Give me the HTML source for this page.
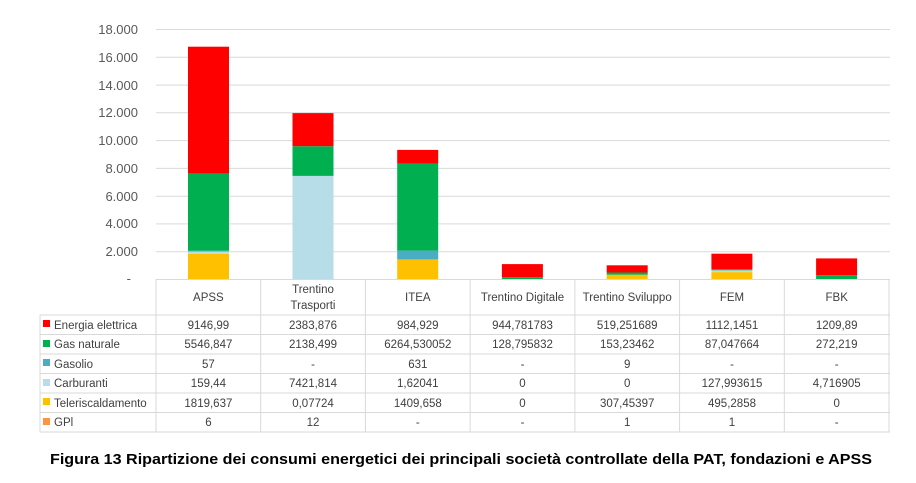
<!DOCTYPE html>
<html><head><meta charset="utf-8"><style>
html,body{margin:0;padding:0;background:#fff;width:916px;height:483px;overflow:hidden}
svg{display:block}
text{font-family:"Liberation Sans",sans-serif}
</style></head><body>
<svg width="916" height="483" xmlns="http://www.w3.org/2000/svg">
<g stroke="#d9d9d9" stroke-width="1">
<line x1="156" y1="29.5" x2="890" y2="29.5"/><line x1="156" y1="57.3" x2="890" y2="57.3"/>
<line x1="156" y1="85.1" x2="890" y2="85.1"/><line x1="156" y1="112.8" x2="890" y2="112.8"/>
<line x1="156" y1="140.6" x2="890" y2="140.6"/><line x1="156" y1="168.4" x2="890" y2="168.4"/>
<line x1="156" y1="196.2" x2="890" y2="196.2"/><line x1="156" y1="223.9" x2="890" y2="223.9"/>
<line x1="156" y1="251.7" x2="890" y2="251.7"/>
</g>
<g font-size="13" fill="#595959" text-anchor="end">
<text x="138" y="34">18.000</text><text x="138" y="62">16.000</text><text x="138" y="90">14.000</text>
<text x="138" y="117">12.000</text><text x="138" y="145">10.000</text><text x="138" y="173">8.000</text>
<text x="138" y="201">6.000</text><text x="138" y="228">4.000</text><text x="138" y="256">2.000</text>
<text x="131" y="283">-</text>
</g>
<g>
<rect x="188" y="253.7" width="41" height="25.3" fill="#ffc000"/>
<rect x="188" y="251.5" width="41" height="2.2" fill="#b7dde8"/>
<rect x="188" y="250.7" width="41" height="0.8" fill="#4bacc6"/>
<rect x="188" y="173.7" width="41" height="77" fill="#00b050"/>
<rect x="188" y="46.7" width="41" height="127" fill="#ff0000"/>

<rect x="292.5" y="175.9" width="41" height="103.1" fill="#b7dde8"/>
<rect x="292.5" y="146.2" width="41" height="29.7" fill="#00b050"/>
<rect x="292.5" y="113.1" width="41" height="33.1" fill="#ff0000"/>

<rect x="397.2" y="259.4" width="41" height="19.6" fill="#ffc000"/>
<rect x="397.2" y="250.6" width="41" height="8.8" fill="#4bacc6"/>
<rect x="397.2" y="163.6" width="41" height="87" fill="#00b050"/>
<rect x="397.2" y="149.9" width="41" height="13.7" fill="#ff0000"/>

<rect x="501.9" y="277.2" width="41" height="1.8" fill="#00b050"/>
<rect x="501.9" y="264.1" width="41" height="13.1" fill="#ff0000"/>

<rect x="606.7" y="274.7" width="41" height="4.3" fill="#ffc000"/>
<rect x="606.7" y="272.5" width="41" height="2.2" fill="#00b050"/>
<rect x="606.7" y="265.3" width="41" height="7.2" fill="#ff0000"/>

<rect x="711.4" y="272.1" width="41" height="6.9" fill="#ffc000"/>
<rect x="711.4" y="270.3" width="41" height="1.8" fill="#b7dde8"/>
<rect x="711.4" y="269.1" width="41" height="1.2" fill="#00b050"/>
<rect x="711.4" y="253.7" width="41" height="15.4" fill="#ff0000"/>

<rect x="816.1" y="275.2" width="41" height="3.8" fill="#00b050"/>
<rect x="816.1" y="258.4" width="41" height="16.8" fill="#ff0000"/>
</g>
<g stroke="#d9d9d9" stroke-width="1">
<line x1="156" y1="279.5" x2="890" y2="279.5"/>
<line x1="40" y1="315" x2="890" y2="315"/>
<line x1="40" y1="334.5" x2="890" y2="334.5"/>
<line x1="40" y1="354" x2="890" y2="354"/>
<line x1="40" y1="373.5" x2="890" y2="373.5"/>
<line x1="40" y1="393" x2="890" y2="393"/>
<line x1="40" y1="412.5" x2="890" y2="412.5"/>
<line x1="40" y1="432" x2="890" y2="432"/>
<line x1="40" y1="315" x2="40" y2="432"/>
<line x1="156" y1="279" x2="156" y2="432"/>
<line x1="260.7" y1="279" x2="260.7" y2="432"/>
<line x1="365.4" y1="279" x2="365.4" y2="432"/>
<line x1="470.1" y1="279" x2="470.1" y2="432"/>
<line x1="574.9" y1="279" x2="574.9" y2="432"/>
<line x1="679.6" y1="279" x2="679.6" y2="432"/>
<line x1="784.3" y1="279" x2="784.3" y2="432"/>
<line x1="889" y1="279" x2="889" y2="432"/>
</g>
<g font-size="11.5" fill="#404040" text-anchor="middle">
<text x="208.4" y="301">APSS</text>
<text x="313" y="293">Trentino</text><text x="313" y="309">Trasporti</text>
<text x="417.8" y="301">ITEA</text>
<text x="522.5" y="301">Trentino Digitale</text>
<text x="627.2" y="301">Trentino Sviluppo</text>
<text x="732" y="301">FEM</text>
<text x="836.7" y="301">FBK</text>
</g>
<g font-size="11.5" fill="#404040">
<rect x="43" y="320" width="7" height="7" fill="#ff0000"/><text x="54" y="329">Energia elettrica</text>
<rect x="43" y="340" width="7" height="7" fill="#00b050"/><text x="54" y="348">Gas naturale</text>
<rect x="43" y="359" width="7" height="7" fill="#4bacc6"/><text x="54" y="368">Gasolio</text>
<rect x="43" y="379" width="7" height="7" fill="#b7dde8"/><text x="54" y="387">Carburanti</text>
<rect x="43" y="398" width="7" height="7" fill="#ffc000"/><text x="54" y="407">Teleriscaldamento</text>
<rect x="43" y="418" width="7" height="7" fill="#f79646"/><text x="54" y="426">GPl</text>
</g>
<g font-size="11.5" fill="#404040" text-anchor="middle">
<text x="208.4" y="329">9146,99</text><text x="313" y="329">2383,876</text><text x="417.8" y="329">984,929</text><text x="522.5" y="329">944,781783</text><text x="627.2" y="329">519,251689</text><text x="732" y="329">1112,1451</text><text x="836.7" y="329">1209,89</text>
<text x="208.4" y="348">5546,847</text><text x="313" y="348">2138,499</text><text x="417.8" y="348">6264,530052</text><text x="522.5" y="348">128,795832</text><text x="627.2" y="348">153,23462</text><text x="732" y="348">87,047664</text><text x="836.7" y="348">272,219</text>
<text x="208.4" y="368">57</text><text x="313" y="368">-</text><text x="417.8" y="368">631</text><text x="522.5" y="368">-</text><text x="627.2" y="368">9</text><text x="732" y="368">-</text><text x="836.7" y="368">-</text>
<text x="208.4" y="387">159,44</text><text x="313" y="387">7421,814</text><text x="417.8" y="387">1,62041</text><text x="522.5" y="387">0</text><text x="627.2" y="387">0</text><text x="732" y="387">127,993615</text><text x="836.7" y="387">4,716905</text>
<text x="208.4" y="407">1819,637</text><text x="313" y="407">0,07724</text><text x="417.8" y="407">1409,658</text><text x="522.5" y="407">0</text><text x="627.2" y="407">307,45397</text><text x="732" y="407">495,2858</text><text x="836.7" y="407">0</text>
<text x="208.4" y="426">6</text><text x="313" y="426">12</text><text x="417.8" y="426">-</text><text x="522.5" y="426">-</text><text x="627.2" y="426">1</text><text x="732" y="426">1</text><text x="836.7" y="426">-</text>
</g>
<text x="50" y="464" font-size="15" font-weight="bold" fill="#000" textLength="822" lengthAdjust="spacingAndGlyphs">Figura 13 Ripartizione dei consumi energetici dei principali società controllate della PAT, fondazioni e APSS</text>
</svg>
</body></html>
